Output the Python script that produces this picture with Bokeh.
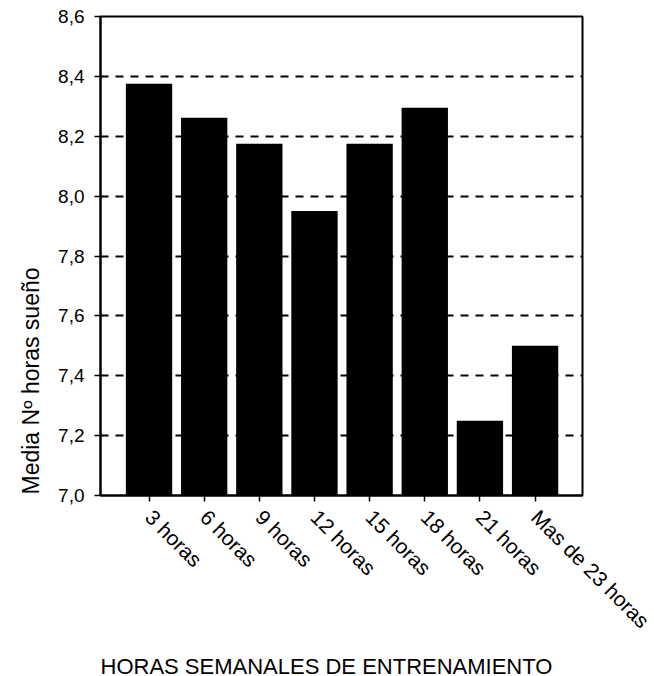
import math

from bokeh.embed import file_html
from bokeh.models import (ColumnDataSource, CustomJSTickFormatter, FixedTicker,
                          Range1d, Title)
from bokeh.plotting import figure
from bokeh.resources import INLINE

# Weekly training hours (categories) and mean hours of sleep
categories = ["3 horas", "6 horas", "9 horas", "12 horas",
              "15 horas", "18 horas", "21 horas", "Mas de 23 horas"]
mean_sleep = [8.375, 8.262, 8.175, 7.95, 8.175, 8.295, 7.25, 7.5]
y_ticks = [7.0, 7.2, 7.4, 7.6, 7.8, 8.0, 8.2, 8.4, 8.6]

FONT = "Liberation Sans"
Y_TITLE = "Media Nº horas sueño"
X_TITLE = "HORAS SEMANALES DE ENTRENAMIENTO"

positions = list(range(1, len(categories) + 1))
source = ColumnDataSource(data=dict(x=positions, top=mean_sleep))

p = figure(
    frame_width=482, frame_height=479,
    min_border_left=100, min_border_right=72,
    min_border_top=16, min_border_bottom=181,
    x_range=Range1d(0.12, 8.86), y_range=Range1d(7.0, 8.6),
    output_backend="svg", toolbar_location=None,
)
p.background_fill_color = "white"
p.border_fill_color = "white"
p.outline_line_color = "black"
p.outline_line_width = 2

p.vbar(x="x", top="top", bottom=7.0, width=0.84, source=source,
       fill_color="black", line_color=None)

# y axis: comma decimal labels, outward ticks only
p.yaxis.ticker = FixedTicker(ticks=y_ticks)
p.yaxis.formatter = CustomJSTickFormatter(
    code="return tick.toFixed(1).replace('.', ',');")
p.yaxis.major_label_text_font = FONT
p.yaxis.major_label_text_font_size = "19px"
p.yaxis.major_label_text_color = "black"
p.yaxis.major_label_standoff = 10
p.yaxis.axis_line_width = 2
p.yaxis.major_tick_line_width = 1.5
p.yaxis.major_tick_in = 0
p.yaxis.major_tick_out = 6
p.yaxis.minor_tick_line_color = None

# x axis: one tick per category, labels slanted downwards
p.xaxis.ticker = FixedTicker(ticks=positions)
p.xaxis.major_label_overrides = {pos: cat for pos, cat in zip(positions, categories)}
p.xaxis.major_label_orientation = -math.pi / 4
p.xaxis.major_label_text_font = FONT
p.xaxis.major_label_text_font_size = "21px"
p.xaxis.major_label_text_color = "black"
p.xaxis.major_label_standoff = 12
p.xaxis.axis_line_width = 2
p.xaxis.major_tick_line_width = 1.5
p.xaxis.major_tick_in = 0
p.xaxis.major_tick_out = 6
p.xaxis.minor_tick_line_color = None

# dashed horizontal grid, no vertical grid
p.xgrid.grid_line_color = None
p.ygrid.grid_line_color = "black"
p.ygrid.grid_line_width = 2
p.ygrid.grid_line_dash = "8 7"

# y title starts at the bottom of the frame and runs upwards
p.add_layout(Title(text=Y_TITLE, align="left", offset=1, standoff=24,
                   text_font=FONT, text_font_size="23px",
                   text_font_style="normal", text_color="black"), "left")

p.add_layout(Title(text=X_TITLE, align="left", offset=0, standoff=16,
                   text_font=FONT, text_font_size="22px",
                   text_font_style="normal", text_color="black"), "below")

open("out.html", "w").write(file_html(p, INLINE))
